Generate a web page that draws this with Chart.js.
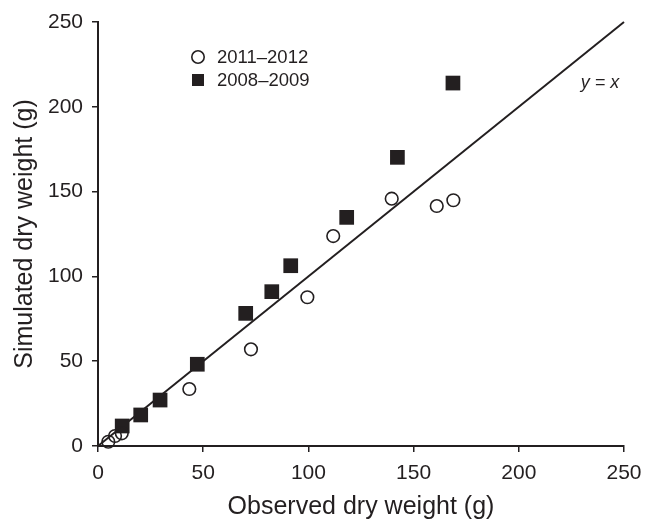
<!DOCTYPE html>
<html>
<head>
<meta charset="utf-8">
<script src="https://cdn.jsdelivr.net/npm/chart.js@4.4.1/dist/chart.umd.min.js"></script>
<style>
  html, body { margin: 0; padding: 0; background: #ffffff; }
  #wrap { width: 653px; height: 524px; }
</style>
</head>
<body>
<div id="wrap"><canvas id="chart" width="653" height="524"></canvas></div>
<script>
// observed (x) vs simulated (y)
var obs2011 = [4.9, 8.1, 11.3, 43.4, 72.7, 99.5, 111.8, 139.6, 161.0, 168.9]
var sim2011 = [2.5, 5.9, 7.5, 33.6, 57.0, 87.7, 123.8, 145.8, 141.5, 144.9]
var obs2008 = [11.5, 20.3, 29.5, 47.2, 70.2, 82.6, 91.6, 118.2, 142.3, 168.7]
var sim2008 = [11.8, 18.3, 27.1, 48.2, 78.2, 91.0, 106.3, 134.8, 170.2, 214.0]
var seriesNames = ['2011\u20132012', '2008\u20132009']
var oneToOne = [0, 250]
var tickValues = [0, 50, 100, 150, 200, 250]

var INK = '#231f20'
Chart.defaults.font.family = '"Liberation Sans", Arial, Helvetica, sans-serif'
Chart.defaults.color = INK

function pairs(xs, ys) {
    var out = []
    for (var i = 0; i < xs.length; i++) out.push({ x: xs[i], y: ys[i] })
    return out
}

// legend and the y = x note, drawn in the plot like the original
var LegendInside = {
    id: 'LegendInside',
    afterDraw: function (chart) {
        var ctx = chart.ctx
        ctx.save()
        ctx.font = '18.5px "Liberation Sans", Arial, sans-serif'
        ctx.fillStyle = INK
        ctx.textBaseline = 'middle'
        // open circle
        ctx.beginPath()
        ctx.lineWidth = 1.6
        ctx.strokeStyle = INK
        ctx.arc(198, 57, 6.2, 0, Math.PI * 2)
        ctx.stroke()
        ctx.fillText(seriesNames[0], 217, 58)
        // filled square
        ctx.fillRect(192, 74, 12, 12)
        ctx.fillText(seriesNames[1], 217, 81)
        // y = x
        ctx.font = 'italic 18px "Liberation Sans", Arial, sans-serif'
        ctx.textAlign = 'center'
        ctx.fillText('y = x', 600, 83)
        ctx.restore()
    }
}

function fixSize(w, h) {
    return function (scale) {
        if (w) scale.width = w
        if (h) scale.height = h
    }
}

var config_Scatter = {
    type: 'scatter',
    data: {
        datasets: [
            {
                label: 'y = x',
                type: 'line',
                data: pairs(oneToOne, oneToOne),
                borderColor: INK,
                borderWidth: 2,
                pointRadius: 0,
                fill: false,
                clip: false,
                order: 3
            },
            {
                label: seriesNames[1],
                data: pairs(obs2008, sim2008),
                pointStyle: 'rect',
                pointRadius: 10.4,
                backgroundColor: INK,
                borderColor: INK,
                borderWidth: 0,
                clip: false,
                order: 2
            },
            {
                label: seriesNames[0],
                data: pairs(obs2011, sim2011),
                pointStyle: 'circle',
                pointRadius: 6.3,
                backgroundColor: 'rgba(255,255,255,0)',
                borderColor: INK,
                borderWidth: 1.6,
                clip: false,
                order: 1
            }
        ]
    },
    plugins: [LegendInside],
    options: {
        responsive: false,
        animation: false,
        layout: { padding: { top: 22, right: 29, left: 0, bottom: 0 } },
        plugins: {
            legend: { display: false },
            tooltip: { enabled: false }
        },
        scales: {
            x: {
                type: 'linear',
                min: 0,
                max: 250,
                afterFit: fixSize(0, 78),
                afterBuildTicks: function (scale) {
                    scale.ticks = tickValues.map(function (v) { return { value: v } })
                },
                border: { display: true, color: INK, width: 2 },
                grid: { drawOnChartArea: false, drawTicks: true, tickLength: 6, color: INK, lineWidth: 1.5 },
                ticks: { font: { size: 21 }, color: INK, padding: 9 },
                title: {
                    display: true,
                    text: 'Observed dry weight (g)',
                    font: { size: 25 },
                    color: INK,
                    padding: { top: 0, bottom: 2 }
                }
            },
            y: {
                type: 'linear',
                min: 0,
                max: 250,
                afterFit: fixSize(98, 0),
                afterBuildTicks: function (scale) {
                    scale.ticks = tickValues.map(function (v) { return { value: v } })
                },
                border: { display: true, color: INK, width: 2 },
                grid: { drawOnChartArea: false, drawTicks: true, tickLength: 6, color: INK, lineWidth: 1.5 },
                ticks: { font: { size: 21 }, color: INK, padding: 9 },
                title: {
                    display: true,
                    text: 'Simulated dry weight (g)',
                    font: { size: 25 },
                    color: INK,
                    padding: { top: 10, bottom: 0 }
                }
            }
        }
    }
}

var ScatterElement = document.getElementById('chart').getContext('2d')
var ScatterChart = new Chart(ScatterElement, config_Scatter)
</script>
</body>
</html>
